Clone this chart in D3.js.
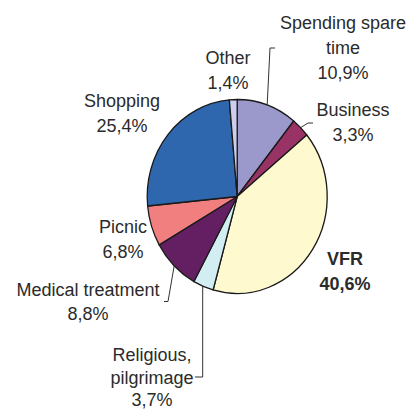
<!DOCTYPE html>
<html>
<head>
<meta charset="utf-8">
<script src="https://cdn.jsdelivr.net/npm/d3@7"></script>
<style>
  body { margin: 0; background: #fff; }
  text { font-family: "Liberation Sans", Arial, sans-serif; font-size: 18px; fill: #2b2b2b; }
</style>
</head>
<body>
<div class="pie1"></div>
<script>
// data, clockwise from 12 o'clock
const categories = ["Spending spare time", "Business", "VFR", "Religious, pilgrimage",
  "Medical treatment", "Picnic", "Shopping", "Other"]
const shares = [10.9, 3.3, 40.6, 3.7, 8.8, 6.8, 25.4, 1.4]
const shareLabels = ["10,9%", "3,3%", "40,6%", "3,7%", "8,8%", "6,8%", "25,4%", "1,4%"]
const colors = ["#9b99cc", "#993366", "#fff9cf", "#d3eef3", "#641f63", "#f27f80", "#2e67ae", "#cdcdee"]

// label layout: name lines, center x, first baseline, line step, leader elbow
const labelLayout = {
  "Spending spare time": { lines: ["Spending spare", "time"], x: 343, y: 29, step: 25, elbow: [270, 48], tip: [275, 48] },
  "Business": { lines: ["Business"], x: 353, y: 116, step: 25, elbow: [308, 123], tip: [313, 123] },
  "VFR": { lines: ["VFR"], x: 345, y: 265, step: 25, bold: true },
  "Religious, pilgrimage": { lines: ["Religious,", "pilgrimage"], x: 152, y: 361, step: 22.5, elbow: [202.7, 377], tip: [195, 377], vertical: true },
  "Medical treatment": { lines: ["Medical treatment"], x: 88, y: 296, step: 24, elbow: [168, 301.5], tip: [164, 301.5] },
  "Picnic": { lines: ["Picnic"], x: 123, y: 233, step: 25 },
  "Shopping": { lines: ["Shopping"], x: 122, y: 107, step: 25 },
  "Other": { lines: ["Other"], x: 228, y: 64, step: 25 }
}

const svgWidth = 409
const svgHeight = 409
const cx = 237.2
const cy = 196.5
const rx = 90
const ry = 97

const svg = d3.select('.pie1')
  .append('svg')
  .attr('width', svgWidth)
  .attr('height', svgHeight)

const data = categories.map((c, i) => ({ name: c, value: shares[i], label: shareLabels[i], color: colors[i] }))

const pie = d3.pie().sort(null).value(d => d.value)
const arcs = pie(data)
const arc = d3.arc().innerRadius(0).outerRadius(ry)

// slightly taller than wide, like the reference
svg.append('g')
  .attr('transform', `translate(${cx}, ${cy}) scale(${rx / ry}, 1)`)
  .selectAll('path')
  .data(arcs)
  .enter()
  .append('path')
  .attr('d', arc)
  .attr('fill', d => d.data.color)
  .attr('stroke', '#1a1a1a')
  .attr('stroke-width', 1.3)
  .attr('stroke-linejoin', 'round')
  .attr('vector-effect', 'non-scaling-stroke')

// leaders
arcs.forEach(a => {
  const L = labelLayout[a.data.name]
  if (!L.elbow) return
  const mid = (a.startAngle + a.endAngle) / 2
  const x0 = cx + rx * Math.sin(mid)
  const y0 = cy - ry * Math.cos(mid)
  let pts
  if (L.vertical) pts = [[L.elbow[0], y0], L.elbow, L.tip]
  else pts = [[x0, y0], L.elbow, L.tip]
  svg.append('path')
    .attr('d', d3.line()(pts))
    .attr('fill', 'none')
    .attr('stroke', '#333')
    .attr('stroke-width', 1)
})

// labels
arcs.forEach(a => {
  const L = labelLayout[a.data.name]
  const t = svg.append('text')
    .attr('text-anchor', 'middle')
    .style('font-weight', L.bold ? 'bold' : 'normal')
  L.lines.concat([a.data.label]).forEach((s, i) => {
    t.append('tspan')
      .attr('x', L.x)
      .attr('y', L.y + i * L.step)
      .text(s)
  })
})
</script>
</body>
</html>
